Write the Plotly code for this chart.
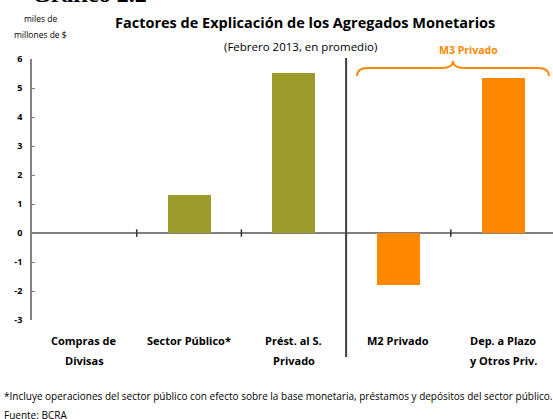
import plotly.graph_objects as go

categories = ["Compras de Divisas", "Sector Público*", "Prést. al S. Privado", "M2 Privado", "Dep. a Plazo y Otros Priv."]
label_line1 = ["Compras de", "Sector Público*", "Prést. al S.", "M2 Privado", "Dep. a Plazo"]
label_line2 = ["Divisas", "", "Privado", "", "y Otros Priv."]
values = [0.0, 1.31, 5.52, -1.79, 5.34]
bar_colors = ["#9C9C2C", "#9C9C2C", "#9C9C2C", "#FF8800", "#FF8800"]
y_ticks = [-3, -2, -1, 0, 1, 2, 3, 4, 5, 6]

FONT = "Open Sans"
W, H = 553, 419
ML, MT, MB = 32, 59, 99
PW = W - ML
PH = H - MT - MB
CAT_PX = 104.7

def px_x(px):
    return (px - ML) / CAT_PX - 0.5

def px_y_data(py):
    return 6 - (py - MT) * 9 / PH

def py_paper(py):
    return (H - MB - py) / PH

def px_paper(px):
    return (px - ML) / PW

xs = list(range(len(categories)))

fig = go.Figure()
fig.add_trace(go.Bar(x=xs, y=values, marker=dict(color=bar_colors, line=dict(width=0)),
                     width=0.41, showlegend=False, hoverinfo="skip"))

fig.update_layout(
    width=W, height=H,
    margin=dict(l=ML, r=0, t=MT, b=MB),
    paper_bgcolor="white", plot_bgcolor="white",
    font=dict(family=FONT, color="black"),
    bargap=0,
)
fig.update_xaxes(range=[-0.5, -0.5 + PW / CAT_PX], showticklabels=False, showgrid=False,
                 zeroline=False, showline=False, ticks="")
fig.update_yaxes(range=[-3, 6], tickvals=y_ticks, ticktext=[str(v) for v in y_ticks],
                 showgrid=False, zeroline=True, zerolinecolor="#808080", zerolinewidth=1.6,
                 showline=True, linecolor="#808080", linewidth=1.6,
                 ticks="inside", ticklen=3, tickcolor="#808080", tickwidth=1,
                 ticklabelstandoff=6,
                 tickfont=dict(family=FONT, size=9, color="black", weight="bold"))

shapes = []
for b in [0.5, 1.5, 3.5]:
    shapes.append(dict(type="line", xref="x", yref="y", x0=b, x1=b, y0=-0.13, y1=0.13,
                       line=dict(color="#333333", width=1.5)))
shapes.append(dict(type="line", xref="x", yref="paper", x0=2.5, x1=2.5,
                   y0=py_paper(357), y1=py_paper(58), line=dict(color="#404040", width=2)))
pts = {
    "a": (px_x(357), px_y_data(76)), "b": (px_x(357), px_y_data(68)), "c": (px_x(368), px_y_data(68)),
    "d": (px_x(441), px_y_data(68)), "e": (px_x(453), px_y_data(68)), "f": (px_x(453), px_y_data(61)),
    "g": (px_x(465), px_y_data(68)), "h": (px_x(538), px_y_data(68)), "i": (px_x(549), px_y_data(68)),
    "j": (px_x(549), px_y_data(76)),
}
def P(k):
    return f"{pts[k][0]:.4f},{pts[k][1]:.4f}"
path = (f"M {P('a')} Q {P('b')} {P('c')} L {P('d')} Q {P('e')} {P('f')} "
        f"Q {P('e')} {P('g')} L {P('h')} Q {P('i')} {P('j')}")
shapes.append(dict(type="path", xref="x", yref="y", path=path,
                   line=dict(color="#FF8800", width=1.8)))
fig.update_layout(shapes=shapes)

ann = []
def text(s, px, py, size, bold=False, color="black", xanchor="center", family=FONT):
    ann.append(dict(text=s, x=px_paper(px), y=py_paper(py), xref="paper", yref="paper",
                    xanchor=xanchor, yanchor="middle", showarrow=False,
                    font=dict(family=family, size=size, color=color, weight="bold" if bold else "normal")))

text("Gráfico 2.2", 30, -6, 24, bold=True, xanchor="left", family="Liberation Serif")
text("miles de", 40, 18, 8.5)
text("millones de $", 40, 35, 8.5)
text("Factores de Explicación de los Agregados Monetarios", 305, 23, 14.5, bold=True)
text("(Febrero 2013, en promedio)", 300, 46, 11.5)
text("M3 Privado", 468, 50, 10.5, bold=True, color="#FF8800")
text("*Incluye operaciones del sector público con efecto sobre la base monetaria, préstamos y depósitos del sector público.",
     2, 396, 10, xanchor="left")
text("Fuente: BCRA", 2, 415, 10, xanchor="left")

for i in xs:
    ann.append(dict(text=label_line1[i], x=i, y=py_paper(340), xref="x", yref="paper",
                    showarrow=False, yanchor="middle",
                    font=dict(family=FONT, size=11, color="black", weight="bold")))
    if label_line2[i]:
        ann.append(dict(text=label_line2[i], x=i, y=py_paper(360), xref="x", yref="paper",
                        showarrow=False, yanchor="middle",
                        font=dict(family=FONT, size=11, color="black", weight="bold")))
fig.update_layout(annotations=ann)

fig.write_html("out.html", config={"displayModeBar": False},
               post_script="document.body.style.margin='0';document.body.style.padding='0';")
